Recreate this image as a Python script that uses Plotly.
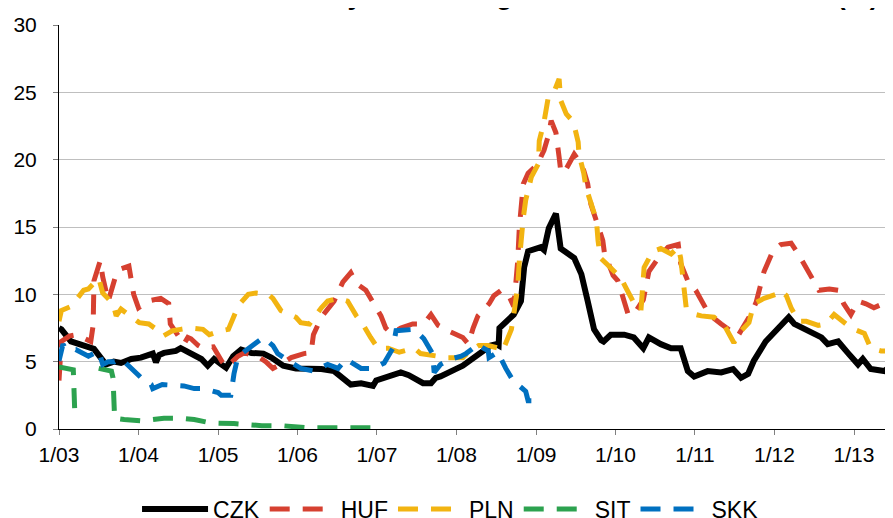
import datetime as dt
import plotly.graph_objects as go

def to_date(t):
    if t is None:
        return None
    y = int(t)
    start = dt.datetime(y, 1, 1)
    end = dt.datetime(y + 1, 1, 1)
    return start + (end - start) * (t - y)

# ---- data (decimal years, % volatility) ----
czk_t = [2003.00, 2003.03, 2003.15, 2003.28, 2003.44, 2003.59, 2003.69, 2003.78, 2003.91, 2004.03,
         2004.18, 2004.22, 2004.26, 2004.32, 2004.47, 2004.53, 2004.66, 2004.79, 2004.87, 2004.95,
         2005.04, 2005.10, 2005.19, 2005.29, 2005.42, 2005.57, 2005.67, 2005.82, 2005.98, 2006.04,
         2006.30, 2006.46, 2006.55, 2006.67, 2006.80, 2006.95, 2006.99, 2007.11, 2007.24, 2007.30,
         2007.40, 2007.49, 2007.58, 2007.68, 2007.74, 2007.80, 2007.89, 2007.99, 2008.08, 2008.16,
         2008.25, 2008.33, 2008.43, 2008.50, 2008.53, 2008.54, 2008.72, 2008.81, 2008.85, 2008.90,
         2009.06, 2009.10, 2009.16, 2009.25, 2009.31, 2009.48, 2009.57, 2009.65, 2009.73, 2009.82,
         2009.85, 2009.94, 2010.11, 2010.23, 2010.35, 2010.42, 2010.57, 2010.70, 2010.82, 2010.91,
         2010.99, 2011.16, 2011.33, 2011.48, 2011.58, 2011.67, 2011.74, 2011.89, 2012.04, 2012.18,
         2012.25, 2012.42, 2012.59, 2012.67, 2012.80, 2012.93, 2013.05, 2013.11, 2013.21, 2013.38,
         2013.49]
czk_v = [7.5, 7.4, 6.5, 6.3, 5.95, 4.8, 5.0, 4.9, 5.2, 5.3,
         5.6, 4.95, 5.5, 5.65, 5.8, 6.0, 5.6, 5.2, 4.7, 5.2,
         4.8, 4.55, 5.4, 5.9, 5.65, 5.6, 5.3, 4.7, 4.5, 4.5,
         4.45, 4.3, 3.9, 3.3, 3.4, 3.2, 3.6, 3.8, 4.1, 4.2,
         4.0, 3.7, 3.4, 3.4, 3.8, 3.9, 4.2, 4.45, 4.7, 5.05,
         5.4, 5.8, 6.2, 6.3, 6.2, 7.5, 8.5, 9.5, 12.0, 13.2,
         13.5, 13.3, 14.9, 16.0, 13.4, 12.7, 11.5, 9.5, 7.4, 6.6,
         6.5, 7.0, 7.0, 6.8, 6.0, 6.8, 6.3, 6.0, 6.0, 4.3,
         3.9, 4.3, 4.2, 4.45, 3.8, 4.1, 5.05, 6.5, 7.5, 8.3,
         7.8, 7.3, 6.8, 6.3, 6.5, 5.6, 4.8, 5.2, 4.45, 4.3,
         4.8]

huf_t = [2003.00, 2003.03, 2003.13, 2003.22, 2003.40, 2003.43, 2003.44, 2003.52, 2003.55, 2003.62,
         2003.72, 2003.78, 2003.88, 2003.90, 2003.94, 2004.00, 2004.12, 2004.28, 2004.38, 2004.40,
         2004.51, 2004.57, 2004.62, 2004.66, 2004.75, 2004.81, 2004.94, 2005.05, 2005.11, 2005.25,
         2005.33, 2005.50, 2005.60, 2005.69, 2005.79, 2005.92, 2006.08, 2006.17, 2006.20, 2006.30,
         2006.46, 2006.57, 2006.67, 2006.74, 2006.86, 2006.96, 2007.05, 2007.11, 2007.18, 2007.30,
         2007.45, 2007.59, 2007.68, 2007.77, 2007.89, 2008.08, 2008.15, 2008.21, 2008.27, 2008.41,
         2008.47, 2008.56, 2008.65, 2008.72, 2008.77, 2008.79, 2008.84, 2008.90, 2009.03, 2009.06,
         2009.10, 2009.16, 2009.19, 2009.25, 2009.28, 2009.29, 2009.31, 2009.35, 2009.48, 2009.54,
         2009.60, 2009.65, 2009.69, 2009.76, 2009.84, 2009.86, 2009.97, 2010.03, 2010.09, 2010.16,
         2010.23, 2010.35, 2010.42, 2010.54, 2010.66, 2010.79, 2010.82, 2010.91, 2011.01, 2011.11,
         2011.18, 2011.33, 2011.45, 2011.54, 2011.70, 2011.77, 2011.87, 2011.98, 2012.08, 2012.21,
         2012.30, 2012.42, 2012.48, 2012.56, 2012.69, 2012.80, 2012.87, 2012.96, 2013.05, 2013.15,
         2013.25, 2013.40, 2013.47]
huf_v = [3.6, 6.5, 6.9, 7.0, 6.5, 7.7, 11.0, 12.5, 11.3, 9.5,
         11.5, 11.9, 12.1, 11.5, 10.0, 9.0, 9.5, 9.7, 9.3, 7.8,
         6.9, 6.3, 6.8, 6.7, 6.2, 6.0, 6.1, 5.0, 4.6, 5.4,
         5.65, 5.4, 5.0, 4.5, 4.8, 5.3, 5.6, 5.65, 7.0, 8.3,
         9.5, 10.9, 11.6, 10.8, 10.3, 9.3, 8.4, 7.5, 7.1, 7.5,
         7.8, 7.8, 8.5, 7.7, 7.3, 6.8, 6.3, 7.5, 8.4, 9.3,
         9.9, 10.3, 10.0, 9.1, 12.5, 15.0, 18.2, 19.0, 19.7, 20.2,
         20.7, 21.9, 22.9, 22.0, 20.9, 20.2, 19.2, 19.0, 20.4, 19.9,
         19.2, 18.2, 16.7, 15.3, 14.0, 13.1, 11.4, 11.0, 9.9, 8.5,
         8.5, 9.6, 11.7, 12.7, 13.5, 13.7, 12.3, 11.0, 10.3, 9.3,
         8.5, 7.8, 7.3, 6.9, 8.5, 9.4, 11.7, 13.2, 13.7, 13.8,
         13.0, 11.7, 11.0, 10.3, 10.4, 10.3, 9.3, 8.5, 9.5, 9.3,
         9.0, 9.4, 10.5]

pln_t = [2003.00, 2003.03, 2003.15, 2003.24, 2003.31, 2003.37, 2003.50, 2003.55, 2003.68, 2003.72,
         2003.78, 2003.87, 2004.01, 2004.13, 2004.25, 2004.31, 2004.43, 2004.53, 2004.64, 2004.81,
         2004.89, 2005.04, 2005.13, 2005.23, 2005.29, 2005.38, 2005.48, 2005.63, 2005.69, 2005.79,
         2005.98, 2006.04, 2006.15, 2006.30, 2006.38, 2006.51, 2006.63, 2006.74, 2006.82, 2006.92,
         2007.01, 2007.14, 2007.28, 2007.47, 2007.55, 2007.77, 2007.84, 2008.02, 2008.08, 2008.15,
         2008.28, 2008.40, 2008.53, 2008.58, 2008.69, 2008.72, 2008.77, 2008.79, 2008.81, 2008.84,
         2008.87, 2008.94, 2009.03, 2009.04, 2009.10, 2009.15, 2009.23, 2009.29, 2009.31, 2009.38,
         2009.47, 2009.53, 2009.54, 2009.60, 2009.63, 2009.70, 2009.76, 2009.78, 2009.81, 2009.90,
         2009.98, 2010.07, 2010.13, 2010.22, 2010.32, 2010.35, 2010.36, 2010.47, 2010.57, 2010.70,
         2010.79, 2010.82, 2010.85, 2010.89, 2011.01, 2011.08, 2011.24, 2011.37, 2011.49, 2011.55,
         2011.68, 2011.74, 2011.87, 2012.02, 2012.08, 2012.15, 2012.21, 2012.30, 2012.40, 2012.55,
         2012.65, 2012.75, 2012.90, 2013.00, 2013.13, 2013.21, 2013.34, 2013.42, 2013.49]
pln_v = [8.0, 8.8, 9.1, 9.7, 10.3, 10.4, 11.2, 10.1, 9.3, 8.4,
         8.9, 8.5, 7.9, 7.8, 7.3, 6.9, 7.3, 7.4, 7.5, 7.4,
         7.0, 7.3, 7.4, 8.8, 9.4, 10.0, 10.1, 10.0, 9.7, 8.8,
         8.3, 7.9, 7.8, 9.0, 9.5, 9.7, 9.5, 8.4, 7.8, 6.8,
         6.0, 6.0, 5.7, 6.0, 5.6, 5.4, 5.3, 5.3, 5.3, 5.7,
         6.2, 6.2, 6.0, 5.8, 7.4, 8.5, 10.6, 12.5, 14.0, 15.7,
         17.0, 18.7, 19.7, 21.4, 22.8, 24.5, 25.1, 26.0, 24.4, 23.4,
         22.8, 21.3, 20.4, 19.0, 17.9, 16.6, 15.5, 14.0, 12.7, 12.2,
         11.7, 11.2, 10.5, 9.5, 8.8, 10.8, 12.0, 13.2, 13.4, 13.0,
         13.5, 12.7, 10.8, 9.0, 8.5, 8.4, 8.3, 7.7, 6.4, 7.1,
         7.9, 9.3, 9.7, 10.0, 10.3, 9.9, 9.0, 8.0, 8.0, 7.7,
         7.8, 8.5, 7.8, 7.4, 7.1, 6.0, 5.8, 5.8, 7.1]

sit_t = [2003.00, 2003.10, 2003.18, 2003.20, None, 2003.50, 2003.66, 2003.68, 2003.70, 2003.82,
         2004.03, 2004.32, 2004.53, 2004.70, 2004.91, 2005.20, 2005.42, 2005.55, 2005.80, 2006.10,
         2006.60, 2007.00]
sit_v = [4.6, 4.5, 4.4, 1.0, None, 4.5, 4.3, 3.8, 0.8, 0.7,
         0.6, 0.8, 0.8, 0.7, 0.45, 0.4, 0.3, 0.25, 0.25, 0.1,
         0.1, 0.1]

skk_t = [2003.00, 2003.05, 2003.09, 2003.21, 2003.37, 2003.50, 2003.55, 2003.62, 2003.70, 2003.76,
         2003.84, 2003.91, 2004.00, 2004.07, 2004.16, 2004.18, 2004.30, 2004.57, 2004.70, 2004.81,
         2005.00, 2005.04, 2005.16, 2005.20, 2005.25, 2005.42, 2005.57, 2005.69, 2005.75, 2005.89,
         2006.00, 2006.04, 2006.21, 2006.38, 2006.51, 2006.61, 2006.80, 2006.96, 2007.09, 2007.20,
         2007.24, 2007.47, 2007.59, 2007.70, 2007.72, 2007.80, 2007.93, 2008.06, 2008.12, 2008.21,
         2008.25, 2008.40, 2008.41, 2008.52, 2008.62, 2008.71, 2008.87, 2008.90, 2008.98]
skk_v = [5.05, 6.3, 5.9, 5.9, 5.4, 5.8, 4.8, 5.0, 5.0, 5.2,
         4.9, 4.5, 4.0, 3.6, 3.3, 3.0, 3.3, 3.2, 3.0, 3.0,
         2.7, 2.5, 2.5, 4.1, 5.4, 6.2, 6.8, 6.2, 5.6, 5.05,
         4.6, 4.5, 4.3, 4.8, 4.5, 5.2, 4.5, 4.5, 4.9, 6.0,
         7.3, 7.4, 6.7, 5.6, 4.2, 4.8, 5.2, 5.4, 5.6, 6.0,
         6.3, 5.8, 5.3, 5.7, 4.5, 3.6, 2.8, 2.1, 2.1]

tick_years = list(range(2003, 2014))
tick_labels = ["1/03", "1/04", "1/05", "1/06", "1/07", "1/08", "1/09", "1/10", "1/11", "1/12", "1/13"]
y_ticks = [0, 5, 10, 15, 20, 25, 30]
title_text = "Volatility of exchange rates vis-à-vis the euro (%)"

FONT = "Arial, Liberation Sans, sans-serif"
DASH = "20px,13px"

series = [
    ("CZK", czk_t, czk_v, "#000000", "solid", 6),
    ("HUF", huf_t, huf_v, "#D64030", DASH, 5),
    ("PLN", pln_t, pln_v, "#F2B411", DASH, 5),
    ("SIT", sit_t, sit_v, "#2CA24F", DASH, 5),
    ("SKK", skk_t, skk_v, "#0070C0", DASH, 5),
]

fig = go.Figure()
for name, t, v, color, dash, w in series:
    fig.add_trace(go.Scatter(
        x=[to_date(a) for a in t], y=v, mode="lines", name=name,
        line=dict(color=color, width=w, dash=dash),
        connectgaps=False,
    ))

fig.update_layout(
    width=893, height=518,
    margin=dict(l=51, r=7, t=17, b=97, autoexpand=False),
    paper_bgcolor="white", plot_bgcolor="white",
    font=dict(family=FONT, size=21, color="#000000"),
    showlegend=True,
    legend=dict(orientation="h", xref="container", yref="container",
                x=0.1445, xanchor="left", y=0.0328, yanchor="middle",
                font=dict(family=FONT, size=23), itemwidth=66, traceorder="normal",
                bgcolor="rgba(0,0,0,0)"),
    annotations=[dict(
        text="<b>" + title_text + "</b>",
        xref="paper", yref="paper", x=0.985, y=1.032, xanchor="right", yanchor="bottom",
        showarrow=False, font=dict(family=FONT, size=27, color="#000000"),
    )],
)

fig.update_xaxes(
    type="date", automargin=False,
    range=[to_date(2003.0), to_date(2013.503)],
    tickvals=[dt.datetime(y, 1, 1) for y in tick_years],
    ticktext=tick_labels,
    showgrid=False, zeroline=False,
    showline=True, linecolor="#000000", linewidth=1,
    ticks="outside", ticklen=5, tickcolor="#808080", tickwidth=1,
    ticklabelstandoff=2,
)
fig.update_yaxes(
    automargin=False,
    range=[0, 30], tickvals=y_ticks,
    showgrid=True, gridcolor="#BFBFBF", gridwidth=1,
    zeroline=False,
    showline=True, linecolor="#000000", linewidth=1,
    ticks="outside", ticklen=5, tickcolor="#808080", tickwidth=1,
    ticklabelstandoff=12,
)

fig.write_html("out.html")
